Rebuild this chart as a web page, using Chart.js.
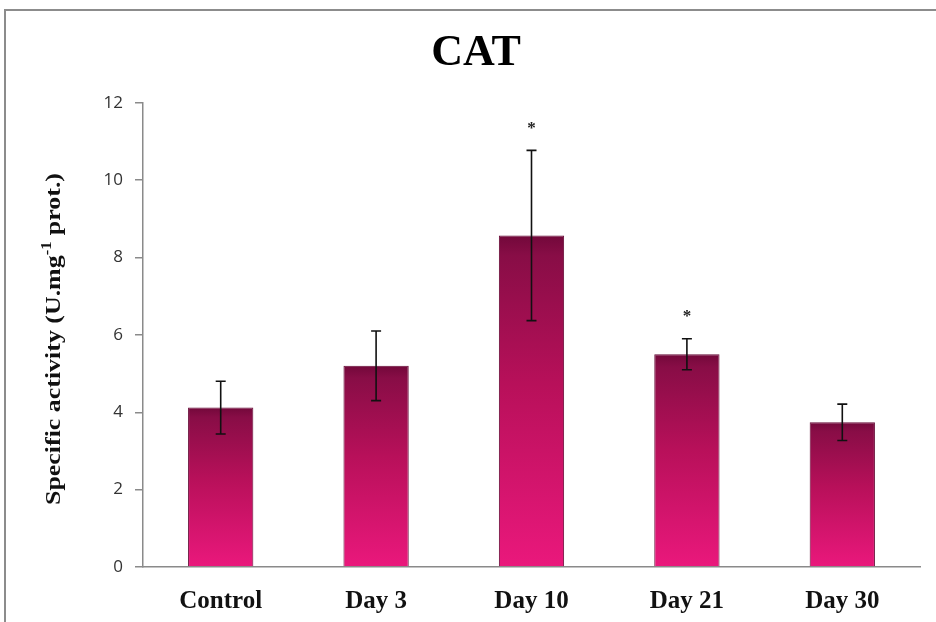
<!DOCTYPE html>
<html>
<head>
<meta charset="utf-8">
<script src="https://cdn.jsdelivr.net/npm/chart.js@4/dist/chart.umd.min.js"></script>
<style>
  html, body { margin: 0; padding: 0; background: #fff; }
  #wrap { width: 936px; height: 622px; position: relative; }
</style>
</head>
<body>
<div id="wrap"><canvas id="catChart" width="936" height="622"></canvas></div>
<script>
const categories = ['Control', 'Day 3', 'Day 10', 'Day 21', 'Day 30'];
const activity = [4.12, 5.2, 8.57, 5.5, 3.74];
const errors = [0.68, 0.9, 2.2, 0.4, 0.47];
const marks = ['', '', '*', '*', ''];
const yTicks = [0, 2, 4, 6, 8, 10, 12];
const yTitle = ['Specific activity (U.mg', '-1', ' prot.)'];

// frame lines at top and left like the original figure
const framePlugin = {
  id: 'frame',
  beforeDraw(chart) {
    const c = chart.ctx;
    c.save();
    c.strokeStyle = '#8c8c8c';
    c.lineWidth = 2;
    c.beginPath();
    c.moveTo(936, 10);
    c.lineTo(5, 10);
    c.lineTo(5, 622);
    c.stroke();
    c.restore();
  }
};

// rotated y title with a real superscript
const yTitlePlugin = {
  id: 'yTitle',
  afterDraw(chart) {
    const c = chart.ctx;
    const big = 'bold 22px "Liberation Serif"';
    const small = 'bold 14px "Liberation Serif"';
    c.save();
    c.font = big;
    const w0 = c.measureText(yTitle[0]).width;
    const w2 = c.measureText(yTitle[2]).width;
    c.font = small;
    const w1 = c.measureText(yTitle[1]).width;
    const total = w0 + w1 + w2;
    const stretch = 332 / total;
    c.translate(60, 339);
    c.rotate(-Math.PI / 2);
    c.scale(stretch, 1);
    c.fillStyle = '#111';
    c.textBaseline = 'alphabetic';
    c.textAlign = 'left';
    let x = -total / 2;
    c.font = big;
    c.fillText(yTitle[0], x, 0);
    x += w0;
    c.font = small;
    c.fillText(yTitle[1], x, -9);
    x += w1;
    c.font = big;
    c.fillText(yTitle[2], x, 0);
    c.restore();
  }
};

// error bars + significance stars
const errorPlugin = {
  id: 'errorBars',
  afterDatasetsDraw(chart) {
    const c = chart.ctx;
    const y = chart.scales.y;
    const meta = chart.getDatasetMeta(0);
    c.save();
    c.strokeStyle = '#111';
    c.lineWidth = 1.6;
    meta.data.forEach((bar, i) => {
      const top = y.getPixelForValue(activity[i] + errors[i]);
      const bot = y.getPixelForValue(activity[i] - errors[i]);
      c.beginPath();
      c.moveTo(bar.x, top); c.lineTo(bar.x, bot);
      c.moveTo(bar.x - 5, top); c.lineTo(bar.x + 5, top);
      c.moveTo(bar.x - 5, bot); c.lineTo(bar.x + 5, bot);
      c.stroke();
      if (marks[i]) {
        c.fillStyle = '#222';
        c.font = 'bold 17px "Liberation Serif"';
        c.textAlign = 'center';
        c.textBaseline = 'middle';
        c.fillText(marks[i], bar.x, top - 22);
      }
    });
    c.restore();
  }
};

function barGradient(context) {
  const chart = context.chart;
  if (!chart.chartArea) return '#c0125e';
  const y = chart.scales.y;
  const top = y.getPixelForValue(activity[context.dataIndex]);
  const bot = y.getPixelForValue(0);
  const g = chart.ctx.createLinearGradient(0, top, 0, bot);
  g.addColorStop(0, '#72083a');
  g.addColorStop(0.06, '#880d46');
  g.addColorStop(0.45, '#b8105a');
  g.addColorStop(1, '#ea187c');
  return g;
}

new Chart(document.getElementById('catChart'), {
  type: 'bar',
  data: {
    labels: categories,
    datasets: [{
      data: activity,
      backgroundColor: barGradient,
      borderColor: '#660935',
      borderWidth: 1,
      barPercentage: 0.42,
      categoryPercentage: 1
    }]
  },
  options: {
    responsive: false,
    animation: false,
    layout: { padding: { top: 10, left: 32, right: 16, bottom: 0 } },
    plugins: {
      legend: { display: false },
      tooltip: { enabled: false },
      title: {
        display: true,
        text: 'CAT',
        color: '#000',
        font: { family: '"Liberation Serif"', size: 44, weight: 'bold' },
        padding: { top: 17, bottom: 23 }
      }
    },
    scales: {
      x: {
        grid: { display: false },
        border: { display: true, color: '#8a8a8a', width: 1.5 },
        ticks: {
          color: '#111',
          padding: 12,
          font: { family: '"Liberation Serif"', size: 25, weight: 'bold' }
        },
        afterFit(scale) { scale.height = 55; }
      },
      y: {
        min: 0,
        max: 12,
        afterBuildTicks(scale) { scale.ticks = yTicks.map(v => ({ value: v })); },
        grid: { drawOnChartArea: false, tickLength: 8, color: '#8a8a8a', lineWidth: 1.5 },
        border: { display: true, color: '#8a8a8a', width: 1.5 },
        ticks: {
          color: '#333',
          padding: 12,
          font: { family: '"Open Sans"', size: 17 }
        },
        afterFit(scale) { scale.width = 111; }
      }
    }
  },
  plugins: [framePlugin, yTitlePlugin, errorPlugin]
});
</script>
</body>
</html>
